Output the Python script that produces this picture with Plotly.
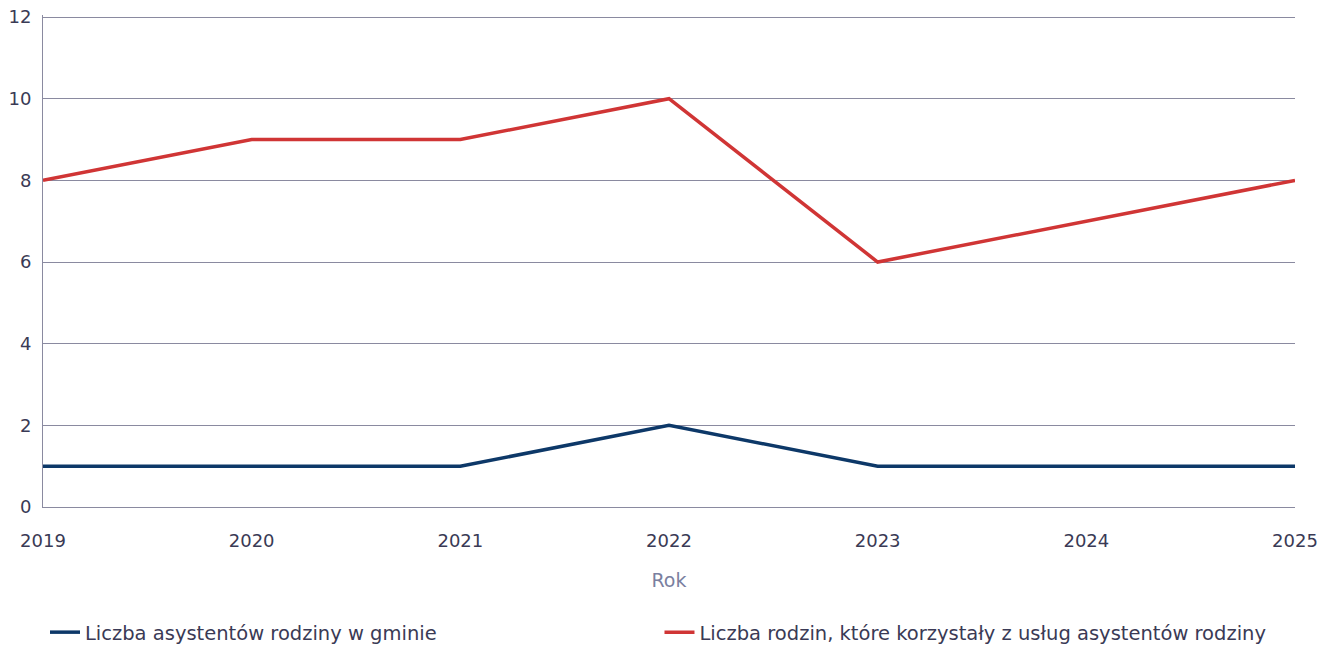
import plotly.graph_objects as go

years = [2019, 2020, 2021, 2022, 2023, 2024, 2025]
asystenci = [1, 1, 1, 2, 1, 1, 1]
rodziny = [8, 9, 9, 10, 6, 7, 8]
series_names = ["Liczba asystentów rodziny w gminie",
                "Liczba rodzin, które korzystały z usług asystentów rodziny"]
y_ticks = [0, 2, 4, 6, 8, 10, 12]

FONT = "DejaVu Sans"
TXT = "#3a3a55"
fig = go.Figure()
fig.add_trace(go.Scatter(x=years, y=asystenci, mode="lines", name=series_names[0],
                         line=dict(color="#0d3868", width=3.5), legend="legend"))
fig.add_trace(go.Scatter(x=years, y=rodziny, mode="lines", name=series_names[1],
                         line=dict(color="#d03535", width=3.5), legend="legend2"))

leg_common = dict(orientation="h", yanchor="top", y=-0.2154, xanchor="left",
                  font=dict(family=FONT, size=19.5, color=TXT), bgcolor="rgba(0,0,0,0)")
# page body has an 8px default margin, so the figure is sized/offset to compensate
fig.update_layout(
    width=1320, height=637,
    margin=dict(l=35, r=33, t=7, b=138, autoexpand=False),
    plot_bgcolor="white", paper_bgcolor="white",
    font=dict(family=FONT, size=18, color=TXT),
    showlegend=True,
    legend=dict(x=0.0016, **leg_common),
    legend2=dict(x=0.4924, **leg_common),
    xaxis=dict(range=[2019, 2025], tickvals=years, ticktext=[str(y) for y in years],
               showgrid=False, zeroline=False, showline=True, linecolor="#8a8aa0",
               linewidth=1, ticks="", tickfont=dict(size=18), automargin=False,
               ticklabelstandoff=17, ticklabeloverflow="allow",
               title=dict(text="Rok", font=dict(size=19, color="#7a7fa0"), standoff=24)),
    yaxis=dict(range=[0, 12.05], tickvals=y_ticks, showgrid=True, gridcolor="#8a8aa0",
               gridwidth=1, zeroline=False, showline=True, linecolor="#8a8aa0",
               linewidth=1, ticks="", tickfont=dict(size=18), automargin=False,
               ticklabelstandoff=7, ticklabeloverflow="allow"),
)
fig.write_html("out.html")
